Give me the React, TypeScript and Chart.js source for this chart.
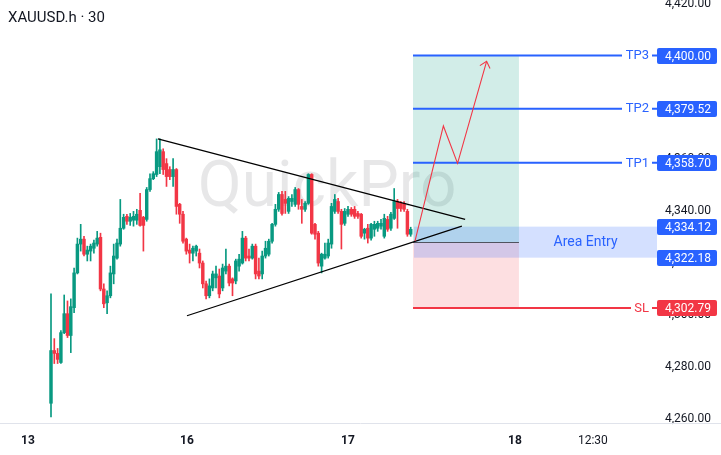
import React, { useEffect, useRef } from 'react';
import { Chart, registerables } from 'chart.js';
Chart.register(...registerables);

// ---- candle data (30-minute bars, XAUUSD.h) ----
const opens = [
  4266.1, 4286.4, 4285.3, 4281.8, 4293.3, 4300.6, 4292.2, 4302.9, 4316.3, 4327.4,
  4329.3, 4323.5, 4324.7, 4325.8, 4327.4, 4330.0, 4310.1, 4304.8, 4307.5, 4315.9,
  4322.0, 4327.4, 4333.5, 4338.1, 4336.2, 4336.6, 4336.6, 4340.4, 4337.7, 4336.9,
  4348.4, 4352.6, 4354.2, 4357.2, 4363.0, 4358.4, 4356.1, 4353.4, 4356.1, 4342.7,
  4338.9, 4329.3, 4325.1, 4323.9, 4324.7, 4323.9, 4320.1, 4312.1, 4307.5, 4310.5,
  4314.4, 4315.1, 4310.5, 4317.0, 4318.9, 4314.0, 4313.2, 4318.9, 4320.1, 4329.7,
  4322.8, 4322.0, 4326.6, 4317.0, 4315.9, 4322.8, 4323.5, 4328.5, 4335.0, 4340.8,
  4346.5, 4344.6, 4340.0, 4343.8, 4342.7, 4348.4, 4341.9, 4340.8, 4343.1, 4354.2,
  4335.0, 4331.6, 4318.9, 4322.0, 4322.8, 4327.4, 4340.0, 4343.8, 4340.0, 4335.4,
  4338.9, 4340.8, 4340.8, 4339.2, 4338.9, 4331.6, 4333.5, 4329.7, 4333.1, 4333.5,
  4334.3, 4330.4, 4336.9, 4333.5, 4337.3, 4343.8, 4343.1, 4343.1, 4340.0, 4331.2,
];
const highs = [
  4308.2, 4291.0, 4287.2, 4294.1, 4307.8, 4305.5, 4306.3, 4318.2, 4329.7, 4335.0,
  4330.4, 4326.6, 4327.4, 4328.9, 4332.3, 4331.6, 4312.1, 4309.4, 4318.9, 4327.4,
  4329.3, 4344.6, 4338.9, 4338.9, 4339.2, 4340.0, 4340.8, 4346.9, 4338.1, 4349.2,
  4354.5, 4355.3, 4367.9, 4367.9, 4364.1, 4360.3, 4357.2, 4360.3, 4356.5, 4343.1,
  4340.0, 4329.7, 4327.4, 4326.6, 4327.0, 4325.5, 4320.9, 4313.2, 4314.0, 4317.0,
  4318.9, 4317.8, 4319.7, 4325.5, 4319.7, 4314.4, 4321.6, 4323.5, 4332.3, 4330.4,
  4325.5, 4327.4, 4327.4, 4322.0, 4324.7, 4328.5, 4329.3, 4335.4, 4342.7, 4347.3,
  4347.7, 4347.7, 4345.7, 4346.5, 4349.2, 4348.8, 4344.6, 4343.8, 4354.5, 4354.5,
  4335.4, 4332.3, 4323.9, 4327.8, 4329.3, 4343.1, 4346.5, 4345.0, 4340.8, 4341.1,
  4341.9, 4341.5, 4341.9, 4340.0, 4339.2, 4333.5, 4335.0, 4335.4, 4336.2, 4336.2,
  4336.9, 4338.9, 4338.1, 4339.6, 4348.8, 4344.6, 4343.8, 4343.8, 4340.8, 4333.9,
];
const lows = [
  4260.8, 4281.4, 4281.4, 4281.4, 4292.9, 4291.4, 4285.6, 4301.0, 4315.9, 4324.7,
  4322.8, 4320.9, 4320.9, 4323.9, 4326.6, 4309.4, 4302.9, 4300.6, 4306.7, 4312.1,
  4321.6, 4326.6, 4333.1, 4335.0, 4334.6, 4334.3, 4335.0, 4334.3, 4324.7, 4336.2,
  4347.7, 4352.2, 4353.4, 4354.5, 4354.2, 4349.6, 4352.2, 4349.6, 4338.9, 4335.4,
  4327.8, 4323.5, 4320.1, 4320.9, 4322.8, 4318.2, 4310.5, 4306.3, 4306.7, 4309.4,
  4310.5, 4306.7, 4309.4, 4315.9, 4311.3, 4307.5, 4312.1, 4317.0, 4319.7, 4320.9,
  4320.9, 4321.6, 4314.0, 4314.0, 4314.0, 4322.0, 4322.8, 4327.8, 4334.3, 4340.0,
  4338.5, 4339.2, 4339.2, 4341.9, 4341.9, 4340.8, 4335.4, 4340.0, 4342.7, 4331.2,
  4329.3, 4318.9, 4316.3, 4321.6, 4322.0, 4325.8, 4339.2, 4339.2, 4325.5, 4334.6,
  4338.1, 4338.1, 4337.3, 4337.3, 4329.7, 4329.3, 4327.8, 4328.9, 4330.4, 4332.3,
  4333.1, 4329.7, 4332.3, 4332.7, 4336.9, 4333.5, 4340.0, 4340.0, 4330.4, 4330.4,
];
const closes = [
  4286.4, 4285.3, 4283.0, 4293.3, 4300.6, 4292.2, 4303.3, 4316.3, 4327.4, 4329.3,
  4323.5, 4325.1, 4326.6, 4327.8, 4329.7, 4310.1, 4304.4, 4307.5, 4316.3, 4322.8,
  4327.8, 4333.5, 4337.7, 4336.2, 4337.7, 4338.1, 4338.9, 4334.6, 4334.6, 4348.4,
  4352.6, 4354.5, 4363.0, 4363.7, 4356.1, 4353.4, 4353.4, 4356.1, 4341.9, 4338.9,
  4328.5, 4324.7, 4323.9, 4325.8, 4326.6, 4320.1, 4312.1, 4307.5, 4311.3, 4315.9,
  4315.9, 4308.2, 4318.2, 4318.9, 4312.4, 4312.4, 4320.9, 4321.6, 4329.7, 4322.0,
  4322.0, 4326.6, 4315.9, 4315.1, 4322.8, 4325.8, 4328.5, 4335.0, 4340.8, 4346.5,
  4339.2, 4343.1, 4345.0, 4345.0, 4348.4, 4342.7, 4340.8, 4343.1, 4354.2, 4331.6,
  4331.2, 4320.1, 4323.5, 4323.5, 4327.8, 4341.9, 4344.6, 4340.0, 4335.0, 4340.0,
  4340.8, 4338.9, 4338.1, 4338.1, 4330.4, 4333.1, 4329.7, 4335.0, 4335.0, 4335.4,
  4335.4, 4337.3, 4333.1, 4338.9, 4343.8, 4341.1, 4341.1, 4340.8, 4331.2, 4333.1,
];

// ---- axis ticks ----
const xTickValues = [-7.0, 41.2, 90.0, 140.6, 164.2];
const xTickLabels = ['13', '16', '17', '18', '12:30'];
const xTickIsDay = [true, true, true, true, false];

// ---- trade setup levels ----
const tpNames = ['TP3', 'TP2', 'TP1'];
const tpLevels = [4400.0, 4379.52, 4358.7];
const slLevel = 4302.79;
const entryTop = 4334.12;
const entryBottom = 4322.18;
const entryLevel = 4328.15;
const positionRange = [109.7, 141.8];
const entryBandStart = 110.0;
const areaEntryLabelAt = 162.0;

// ---- drawings ----
const upperTrendX = [32.4, 125.5];
const upperTrendY = [4367.9, 4336.9];
const lowerTrendX = [41.2, 124.5];
const lowerTrendY = [4299.8, 4334.3];
const arrowX = [110.3, 118.9, 123.2, 132.0];
const arrowY = [4328.5, 4372.9, 4358.5, 4397.8];

const GREEN = '#089981';
const RED = '#F23645';
const BLUE = '#2962FF';
const TEXT = '#131722';
const FONT = 'Roboto, "Noto Sans", sans-serif';

const fmt = (v: number) =>
  v.toLocaleString('en-US', { minimumFractionDigits: 2, maximumFractionDigits: 2 });

function roundRect(ctx: CanvasRenderingContext2D, x: number, y: number, w: number, h: number, r: number) {
  ctx.beginPath();
  ctx.moveTo(x + r, y);
  ctx.lineTo(x + w - r, y);
  ctx.quadraticCurveTo(x + w, y, x + w, y + r);
  ctx.lineTo(x + w, y + h - r);
  ctx.quadraticCurveTo(x + w, y + h, x + w - r, y + h);
  ctx.lineTo(x + r, y + h);
  ctx.quadraticCurveTo(x, y + h, x, y + h - r);
  ctx.lineTo(x, y + r);
  ctx.quadraticCurveTo(x, y, x + r, y);
  ctx.closePath();
}

const overlayPlugin = {
  id: 'overlay',
  beforeDatasetsDraw(chart: any) {
    const { ctx, chartArea: a } = chart;
    ctx.save();
    ctx.font = `64px ${FONT}`;
    ctx.fillStyle = 'rgba(19,23,34,0.10)';
    ctx.textAlign = 'center';
    ctx.textBaseline = 'alphabetic';
    ctx.fillText('QuickPro', a.left + 327, a.top + 206);
    ctx.restore();
  },
  afterDraw(chart: any) {
    const { ctx, chartArea: a } = chart;
    const xs = chart.scales.x;
    const ys = chart.scales.y;
    const px = (v: number) => xs.getPixelForValue(v);
    const py = (v: number) => ys.getPixelForValue(v);

    // ---- inside chart area ----
    ctx.save();
    ctx.beginPath();
    ctx.rect(a.left, a.top, a.right - a.left, a.bottom - a.top);
    ctx.clip();

    const x0 = px(positionRange[0]);
    const x1 = px(positionRange[1]);
    ctx.fillStyle = 'rgba(8,153,129,0.18)';
    ctx.fillRect(x0, py(tpLevels[0]), x1 - x0, py(entryLevel) - py(tpLevels[0]));
    ctx.fillStyle = 'rgba(242,54,69,0.16)';
    ctx.fillRect(x0, py(entryLevel), x1 - x0, py(slLevel) - py(entryLevel));
    const bx = px(entryBandStart);
    ctx.fillStyle = 'rgba(41,98,255,0.2)';
    ctx.fillRect(bx, py(entryTop), a.right - bx, py(entryBottom) - py(entryTop));
    ctx.strokeStyle = '#50535e';
    ctx.lineWidth = 1;
    ctx.beginPath();
    ctx.moveTo(x0, Math.round(py(entryLevel)) + 0.5);
    ctx.lineTo(x1, Math.round(py(entryLevel)) + 0.5);
    ctx.stroke();

    ctx.fillStyle = BLUE;
    ctx.font = `14px ${FONT}`;
    ctx.textAlign = 'center';
    ctx.textBaseline = 'middle';
    ctx.fillText('Area Entry', px(areaEntryLabelAt), (py(entryTop) + py(entryBottom)) / 2);

    ctx.strokeStyle = '#000000';
    ctx.lineWidth = 1.2;
    ctx.beginPath();
    ctx.moveTo(px(upperTrendX[0]), py(upperTrendY[0]));
    ctx.lineTo(px(upperTrendX[1]), py(upperTrendY[1]));
    ctx.moveTo(px(lowerTrendX[0]), py(lowerTrendY[0]));
    ctx.lineTo(px(lowerTrendX[1]), py(lowerTrendY[1]));
    ctx.stroke();

    ctx.lineWidth = 2;
    ctx.strokeStyle = BLUE;
    tpLevels.forEach((lv) => {
      const y = py(lv);
      ctx.beginPath();
      ctx.moveTo(x0, y);
      ctx.lineTo(a.right - 35, y);
      ctx.moveTo(a.right - 5, y);
      ctx.lineTo(a.right, y);
      ctx.stroke();
    });
    ctx.strokeStyle = RED;
    {
      const y = py(slLevel);
      ctx.beginPath();
      ctx.moveTo(x0, y);
      ctx.lineTo(a.right - 26, y);
      ctx.moveTo(a.right - 5, y);
      ctx.lineTo(a.right, y);
      ctx.stroke();
    }

    ctx.strokeStyle = RED;
    ctx.lineWidth = 1.1;
    ctx.beginPath();
    arrowX.forEach((xv, i) => {
      const X = px(xv);
      const Y = py(arrowY[i]);
      if (i === 0) ctx.moveTo(X, Y);
      else ctx.lineTo(X, Y);
    });
    ctx.stroke();
    {
      const n = arrowX.length;
      const tx = px(arrowX[n - 1]);
      const ty = py(arrowY[n - 1]);
      const sx = px(arrowX[n - 2]);
      const sy = py(arrowY[n - 2]);
      const ang = Math.atan2(ty - sy, tx - sx);
      const L = 8;
      const spread = 0.72;
      ctx.beginPath();
      ctx.moveTo(tx - L * Math.cos(ang - spread), ty - L * Math.sin(ang - spread));
      ctx.lineTo(tx, ty);
      ctx.lineTo(tx - L * Math.cos(ang + spread), ty - L * Math.sin(ang + spread));
      ctx.stroke();
    }
    ctx.restore();

    // ---- outside chart area ----
    ctx.save();
    ctx.strokeStyle = '#e0e3eb';
    ctx.lineWidth = 1;
    ctx.beginPath();
    ctx.moveTo(0, Math.round(a.bottom) + 0.5);
    ctx.lineTo(chart.width, Math.round(a.bottom) + 0.5);
    ctx.stroke();

    const box = (y: number, text: string, color: string) => {
      ctx.fillStyle = color;
      roundRect(ctx, a.right, Math.round(y) - 8, 60, 16, 2);
      ctx.fill();
      ctx.fillStyle = '#ffffff';
      ctx.font = `12px ${FONT}`;
      ctx.textAlign = 'left';
      ctx.textBaseline = 'middle';
      ctx.fillText(text, a.right + 8, Math.round(y) + 0.5);
    };

    tpLevels.forEach((lv, i) => {
      ctx.fillStyle = BLUE;
      ctx.font = `13px ${FONT}`;
      ctx.textAlign = 'right';
      ctx.textBaseline = 'middle';
      ctx.fillText(tpNames[i], a.right - 8, py(lv) + 0.5);
      box(py(lv), fmt(lv), BLUE);
    });
    ctx.fillStyle = RED;
    ctx.font = `13px ${FONT}`;
    ctx.textAlign = 'right';
    ctx.textBaseline = 'middle';
    ctx.fillText('SL', a.right - 8, py(slLevel) + 0.5);
    box(py(slLevel), fmt(slLevel), RED);
    box(py(entryTop), fmt(entryTop), BLUE);
    box(py(entryBottom), fmt(entryBottom), BLUE);

    ctx.fillStyle = TEXT;
    ctx.font = `15px ${FONT}`;
    ctx.textAlign = 'left';
    ctx.textBaseline = 'middle';
    ctx.fillText('XAUUSD.h · 30', 8, 18);
    ctx.restore();
  },
};

const zeroPad = (s: any) => {
  s.paddingLeft = 0;
  s.paddingRight = 0;
  s.paddingTop = 0;
  s.paddingBottom = 0;
};

export default function App() {
  const ref = useRef<HTMLCanvasElement | null>(null);
  useEffect(() => {
    document.body.style.margin = '0';
    const canvas = ref.current;
    if (!canvas) return;
    Chart.defaults.font.family = FONT;
    const colors = opens.map((o, i) => (closes[i] >= o ? GREEN : RED));
    const chart = new Chart(canvas, {
      type: 'bar',
      data: {
        datasets: [
          {
            label: 'body',
            data: opens.map((o, i) => ({ x: i, y: [o, closes[i]] })) as any,
            backgroundColor: colors,
            barThickness: 2.8,
            minBarLength: 1,
            grouped: false,
            order: 1,
          },
          {
            label: 'wick',
            data: opens.map((_, i) => ({ x: i, y: [lows[i], highs[i]] })) as any,
            backgroundColor: colors,
            barThickness: 1,
            grouped: false,
            order: 2,
          },
        ],
      },
      options: {
        responsive: false,
        animation: false,
        layout: { padding: 0 },
        plugins: { legend: { display: false }, tooltip: { enabled: false } },
        scales: {
          x: {
            type: 'linear',
            offset: false,
            min: -15.4545,
            max: 183.636,
            grid: { display: false, drawTicks: false, offset: false },
            border: { display: false },
            afterBuildTicks: (s: any) => {
              s.ticks = xTickValues.map((v) => ({ value: v }));
            },
            afterFit: (s: any) => {
              s.height = 32;
              zeroPad(s);
            },
            ticks: {
              autoSkip: false,
              maxRotation: 0,
              padding: 11,
              color: TEXT,
              font: (c: any) => ({
                family: FONT,
                size: 12,
                weight: xTickIsDay[c.index] ? 'bold' : 'normal',
              }),
              callback: (_v: any, i: number) => xTickLabels[i],
            },
          },
          y: {
            type: 'linear',
            position: 'right',
            min: 4258.5,
            max: 4421.4,
            grid: { display: false, drawTicks: false },
            border: { display: false },
            afterFit: (s: any) => {
              s.width = 64;
              zeroPad(s);
            },
            ticks: {
              stepSize: 20,
              includeBounds: false,
              padding: 8,
              color: TEXT,
              font: { family: FONT, size: 12 },
              callback: (v: any) => fmt(Number(v)),
            },
          },
        },
      } as any,
      plugins: [overlayPlugin],
    });
    return () => chart.destroy();
  }, []);
  return (
    <div style={{ width: 721, height: 455, background: '#ffffff' }}>
      <canvas ref={ref} width={721} height={455} style={{ display: 'block' }} />
    </div>
  );
}
